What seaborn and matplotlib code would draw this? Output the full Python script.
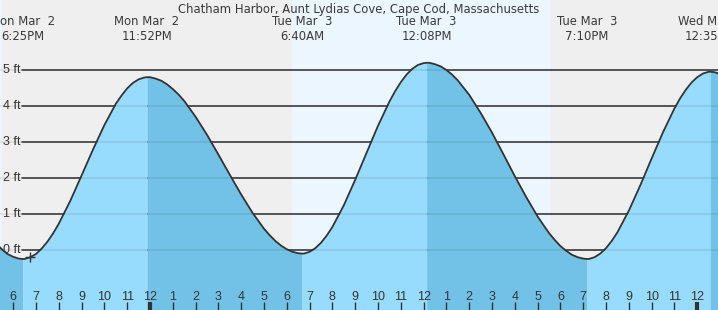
import numpy as np
import pandas as pd
import matplotlib
matplotlib.use("Agg")
import matplotlib.pyplot as plt
import seaborn as sns

# ---------------- data (hours relative to Tue Mar 3 00:00, heights in ft) -------------
curve_times = [-7.0, -6.75, -6.5, -6.25, -6.0, -5.75, -5.583, -5.5, -5.25, -5.0,
               -4.75, -4.5, -4.25, -4.0, -3.5, -3.0, -2.5, -2.0, -1.5, -1.25,
               -1.0, -0.75, -0.5, -0.25, -0.133, 0.0, 0.25, 0.5, 0.75, 1.0,
               1.25, 1.5, 2.0, 2.5, 3.0, 3.5, 4.0, 4.5, 5.0, 5.25,
               5.5, 5.75, 6.0, 6.25, 6.5, 6.667, 6.75, 7.0, 7.25, 7.5,
               7.75, 8.0, 8.5, 9.0, 9.5, 10.0, 10.5, 10.75, 11.0, 11.25,
               11.5, 11.75, 12.0, 12.133, 12.25, 12.5, 12.75, 13.0, 13.25, 13.5,
               14.0, 14.5, 15.0, 15.5, 16.0, 16.5, 17.0, 17.5, 17.75, 18.0,
               18.25, 18.5, 18.75, 19.0, 19.167, 19.25, 19.5, 19.75, 20.0, 20.25,
               20.5, 21.0, 21.5, 22.0, 22.5, 23.0, 23.25, 23.5, 23.75, 24.0,
               24.25, 24.5, 24.583, 24.75, 25.0]
curve_heights = [0.38, 0.18, 0.02, -0.11, -0.19, -0.24, -0.25, -0.25, -0.20, -0.11,
                 0.04, 0.23, 0.46, 0.73, 1.36, 2.07, 2.79, 3.47, 4.06, 4.29,
                 4.49, 4.64, 4.74, 4.79, 4.80, 4.80, 4.76, 4.70, 4.60, 4.47,
                 4.32, 4.14, 3.70, 3.20, 2.65, 2.09, 1.54, 1.03, 0.59, 0.41,
                 0.25, 0.12, 0.02, -0.05, -0.09, -0.10, -0.10, -0.05, 0.05, 0.20,
                 0.40, 0.64, 1.24, 1.95, 2.70, 3.45, 4.12, 4.41, 4.66, 4.87,
                 5.03, 5.14, 5.19, 5.20, 5.20, 5.16, 5.10, 5.00, 4.87, 4.71,
                 4.31, 3.81, 3.26, 2.66, 2.05, 1.47, 0.93, 0.47, 0.28, 0.11,
                 -0.02, -0.13, -0.20, -0.24, -0.25, -0.25, -0.20, -0.10, 0.05, 0.25,
                 0.49, 1.09, 1.79, 2.54, 3.27, 3.93, 4.21, 4.45, 4.65, 4.80,
                 4.90, 4.95, 4.95, 4.94, 4.89]

event_times = [-5.583, -0.133, 6.667, 12.133, 19.167, 24.583]
event_heights = [-0.25, 4.80, -0.10, 5.20, -0.25, 4.95]
event_labels = ["Mon Mar  2\n6:25PM", "Mon Mar  2\n11:52PM", "Tue Mar  3\n6:40AM",
                "Tue Mar  3\n12:08PM", "Tue Mar  3\n7:10PM", "Wed Mar  4\n12:35AM"]

daylight_spans = [(-9.0, -6.47), (6.23, 17.54)]
grid_levels = [0, 1, 2, 3, 4, 5]
grid_labels = ["0 ft", "1 ft", "2 ft", "3 ft", "4 ft", "5 ft"]

hour_ticks = list(range(-6, 25))
hour_tick_labels = ["6", "7", "8", "9", "10", "11", "12", "1", "2", "3", "4", "5", "6", "7",
                    "8", "9", "10", "11", "12", "1", "2", "3", "4", "5", "6", "7", "8", "9",
                    "10", "11", "12"]

now_time = [-5.26]
now_height = [-0.19]

title = "Chatham Harbor, Aunt Lydias Cove, Cape Cod, Massachusetts"

# ---------------- style ----------------
sns.set_style("white")
plt.rcParams["font.family"] = ["Liberation Sans", "DejaVu Sans"]

NIGHT = "#efefef"
DAY = "#ecf6ff"
RISE = "#97dcfd"
FALL = "#72c1e6"
INK = "#333333"

fig = plt.figure(figsize=(7.18, 3.10), dpi=100)
ax = fig.add_axes([0, 0, 1, 1])
XMIN, XMAX = -6.579, 24.912
YMIN, YMAX = -1.667, 6.944
ax.set_xlim(XMIN, XMAX)
ax.set_ylim(YMIN, YMAX)
ax.set_facecolor(NIGHT)
for s in ax.spines.values():
    s.set_visible(False)

for a, b in daylight_spans:
    ax.axvspan(a, b, color=DAY, zorder=0, lw=0)

gx0 = 22 / 718
for v in grid_levels:
    ax.axhline(v, xmin=gx0, xmax=1, color=INK, lw=1.1, zorder=1)

df = pd.DataFrame({"time": curve_times, "height": curve_heights})
t = df["time"].to_numpy()
h = df["height"].to_numpy()

bounds = [-np.inf] + event_times + [np.inf]
mid = np.mean(event_heights)
for i in range(len(bounds) - 1):
    lo, hi = bounds[i], bounds[i + 1]
    if i < len(event_times):
        rising = event_heights[i] > mid
    else:
        rising = not (event_heights[-1] > mid)
    m = (t >= lo) & (t <= hi)
    ax.fill_between(t[m], h[m], YMIN, color=RISE if rising else FALL, lw=0, zorder=2)

for v in grid_levels:
    ax.axhline(v, xmin=0, xmax=1, color=(0, 0, 0, 0.09), lw=1.1, zorder=3)

sns.lineplot(data=df, x="time", y="height", color=INK, lw=1.3, ax=ax, zorder=4, sort=True)
ax.scatter(now_time, now_height, marker="+", s=45, color=INK, lw=1.0, zorder=5)

ytr = ax.get_yaxis_transform()
for v, lab in zip(grid_levels, grid_labels):
    ax.text(3 / 718, v, lab, transform=ytr, ha="left", va="center",
            fontsize=9, color=INK, zorder=3.5)

TOP_FONT = ["DejaVu Sans"]
xtr = ax.get_xaxis_transform()
for et, lab in zip(event_times, event_labels):
    ax.text(et, 1 - 15 / 310, lab, transform=xtr, ha="center", va="top",
            fontsize=8.4, family=TOP_FONT, color="#3a3a3a", linespacing=1.15, zorder=6)
ax.text(0.5, 1 - 3 / 310, title, transform=ax.transAxes, ha="center", va="top",
        fontsize=8.4, family=TOP_FONT, color="#3a3a3a", zorder=6)

ax.set_xticks(hour_ticks)
ax.set_xticklabels(hour_tick_labels)
ax.set_yticks([])
ax.set_xlabel("")
ax.set_ylabel("")
ax.set_axisbelow(False)
ax.tick_params(axis="x", direction="in", length=6, width=1.0, color=INK,
               labelsize=9, labelcolor=INK, pad=-14, bottom=True)
for tk, hv in zip(ax.xaxis.get_major_ticks(), hour_ticks):
    if hv % 24 == 0:
        tk.tick1line.set_markeredgewidth(3)
ax.xaxis.set_zorder(8)

fig.savefig("out.png", dpi=100)
